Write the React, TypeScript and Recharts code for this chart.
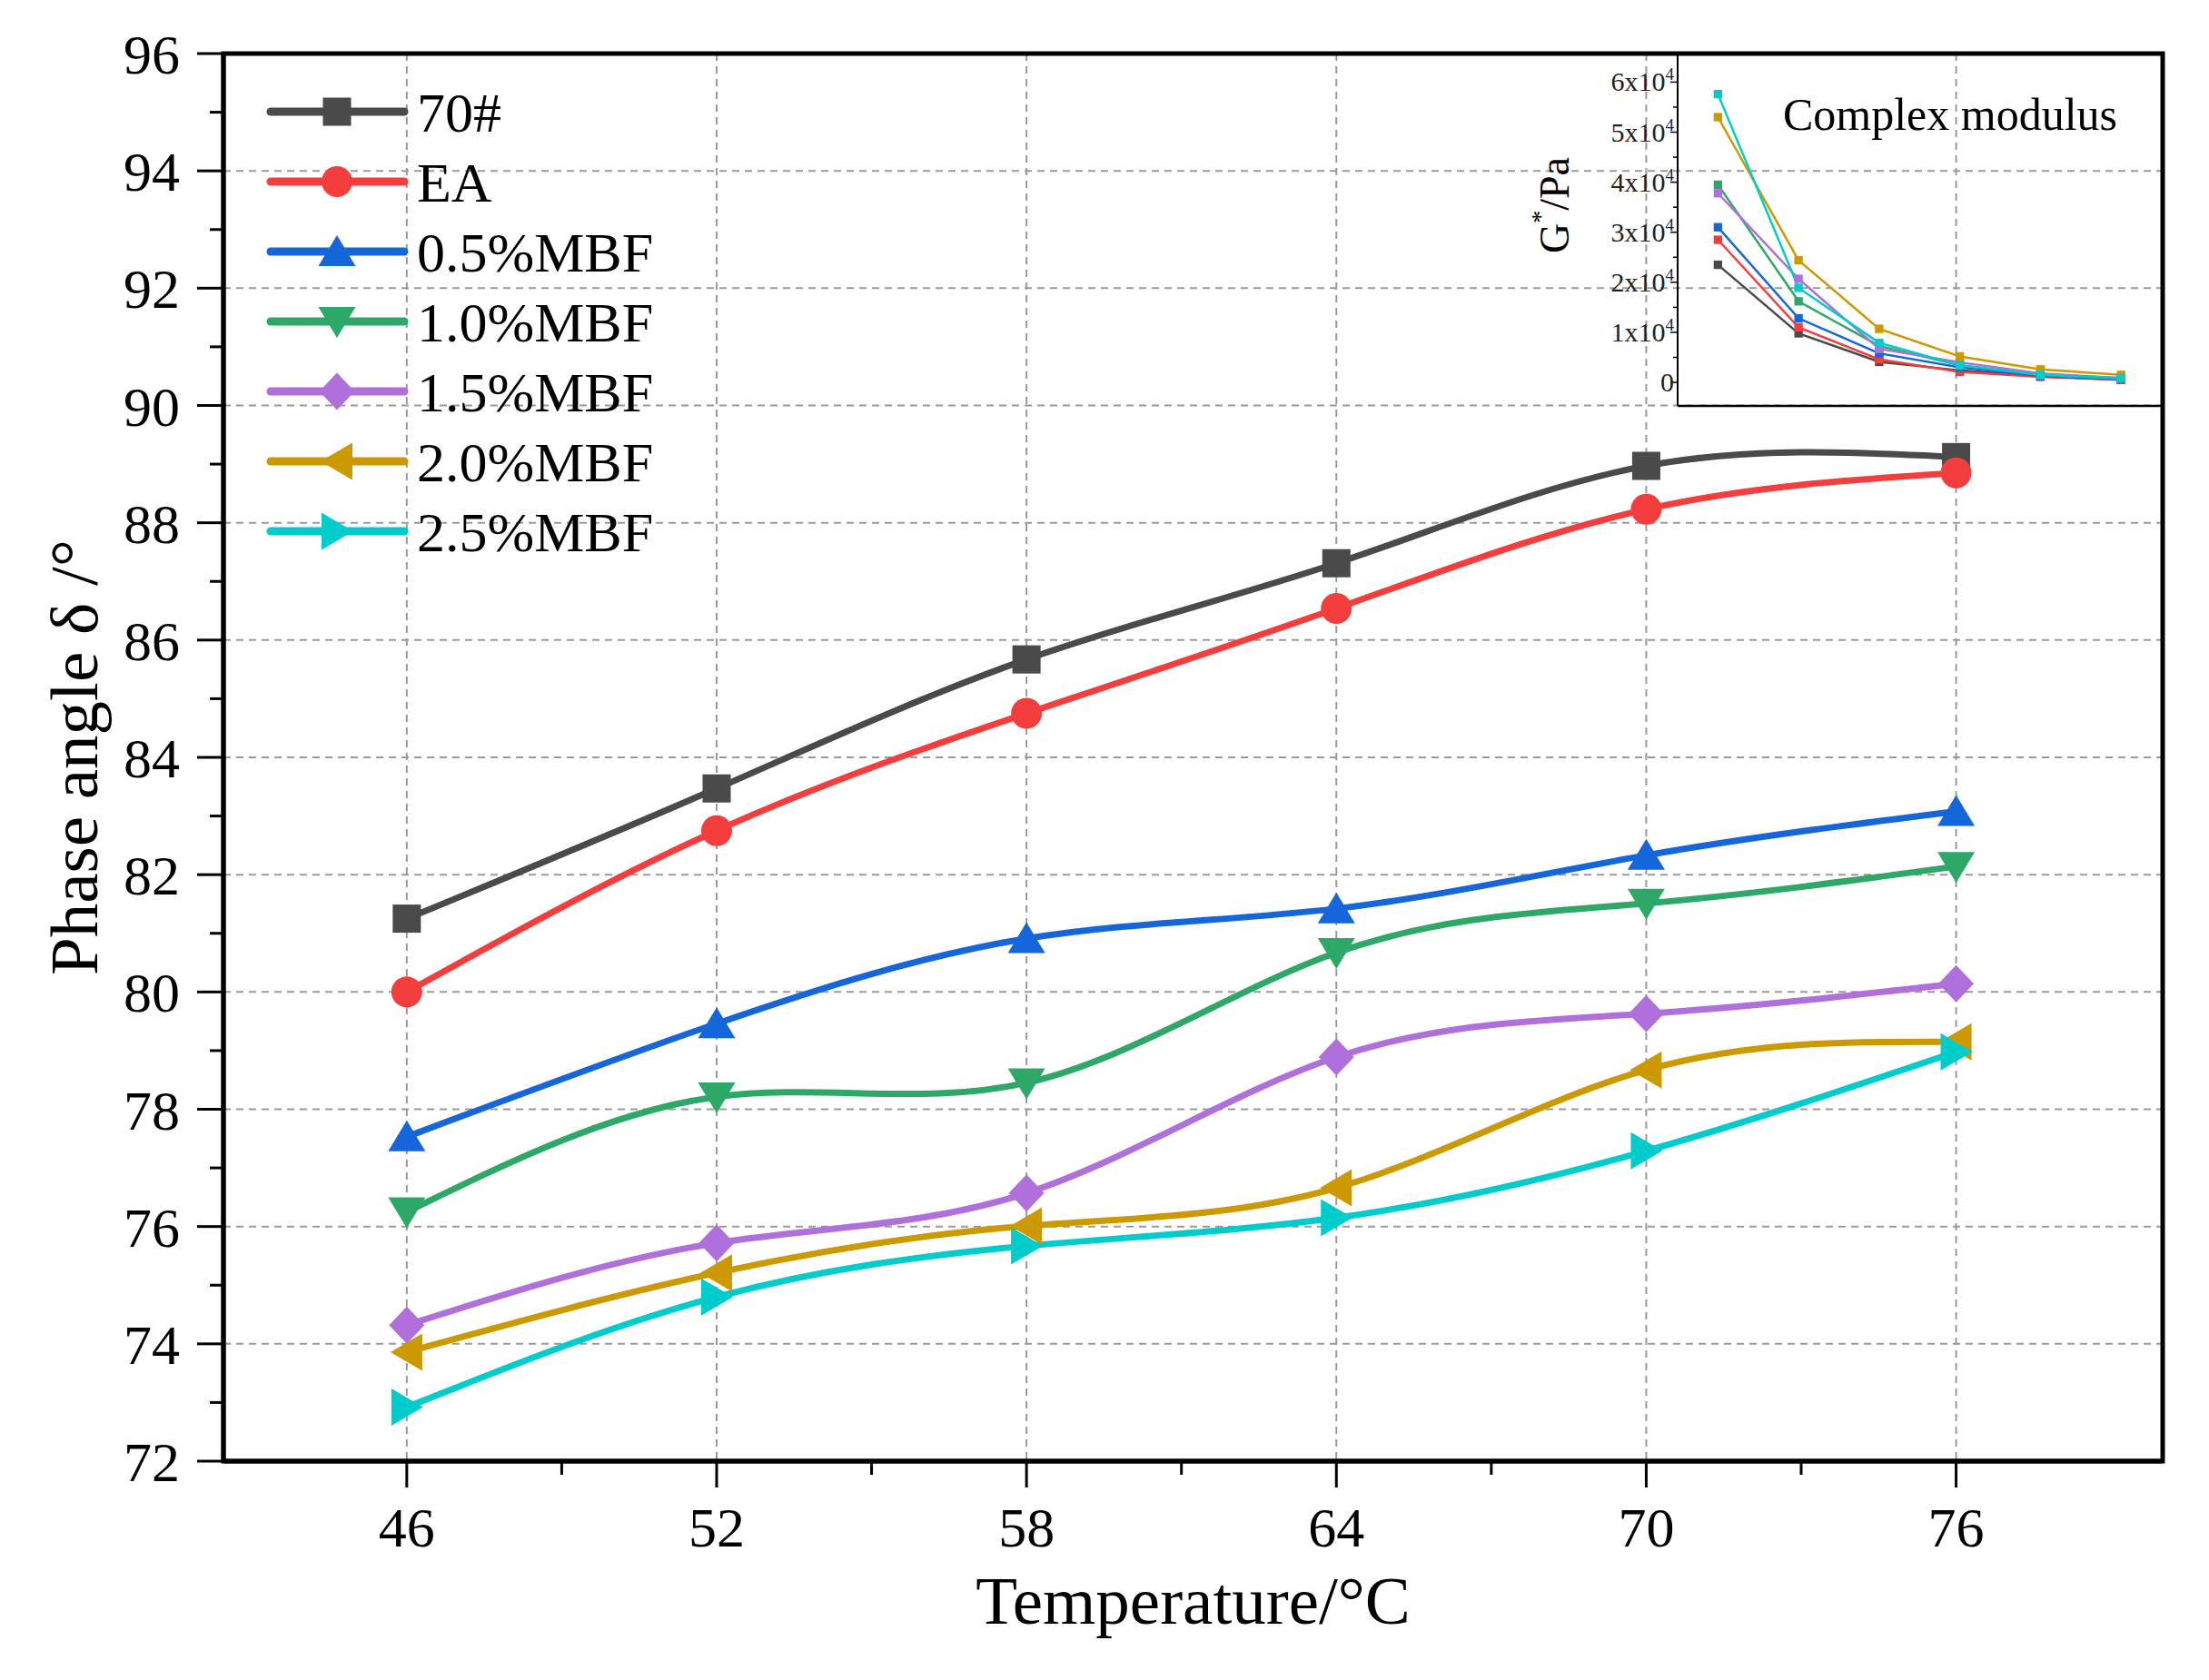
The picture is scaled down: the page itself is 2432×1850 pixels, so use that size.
import React from "react";
import { LineChart, Line, XAxis, YAxis, CartesianGrid, Legend, ReferenceArea } from "recharts";

// temperatures (°C)
const temps = [46, 52, 58, 64, 70, 76];

const seriesNames = ["70#", "EA", "0.5%MBF", "1.0%MBF", "1.5%MBF", "2.0%MBF", "2.5%MBF"];
const seriesColors = ["#4a4a4a", "#f43d3d", "#1565db", "#2ea866", "#b070db", "#cc9900", "#00cccc"];
const seriesShapes = ["square", "circle", "up", "down", "diamond", "left", "right"];

// phase angle δ (°)
const phase70 = [81.25, 83.47, 85.67, 87.31, 88.97, 89.12];
const phaseEA = [80.0, 82.75, 84.75, 86.54, 88.23, 88.85];
const phase05 = [77.53, 79.46, 80.91, 81.42, 82.33, 83.08];
const phase10 = [76.25, 78.21, 78.45, 80.67, 81.51, 82.14];
const phase15 = [74.32, 75.72, 76.57, 78.89, 79.63, 80.14];
const phase20 = [73.86, 75.21, 76.01, 76.66, 78.67, 79.15];
const phase25 = [72.92, 74.8, 75.67, 76.15, 77.29, 78.98];

// complex modulus G* (Pa) for the inset
const modulus70 = [23500, 9800, 4100, 2400, 1200, 600];
const modulusEA = [28500, 11000, 4600, 2100, 1100, 500];
const modulus05 = [31000, 12800, 5800, 3000, 1300, 600];
const modulus10 = [39500, 16200, 7300, 3400, 1500, 700];
const modulus15 = [37800, 20700, 6700, 4000, 1800, 900];
const modulus20 = [53000, 24400, 10700, 5200, 2600, 1500];
const modulus25 = [57600, 18900, 7900, 3400, 1500, 900];

const phaseSeries = [phase70, phaseEA, phase05, phase10, phase15, phase20, phase25];
const modulusSeries = [modulus70, modulusEA, modulus05, modulus10, modulus15, modulus20, modulus25];

const xDomain = [42.45, 80];
const yDomain = [72, 96];
const xMajor = [46, 52, 58, 64, 70, 76];
const xTicks = [46, 49, 52, 55, 58, 61, 64, 67, 70, 73, 76];
const yTicks = Array.from({ length: 25 }, (_, i) => 72 + i);
const yGrid = [74, 76, 78, 80, 82, 84, 86, 88, 90, 92, 94];
const insetTicks = Array.from({ length: 13 }, (_, i) => i * 5000);

const FONT = "'Liberation Serif', 'Times New Roman', serif";

const phaseRows = temps.map((t, i) => {
  const row: any = { t };
  phaseSeries.forEach((s, k) => (row[`s${k}`] = s[i]));
  return row;
});
const modulusRows = temps.map((t, i) => {
  const row: any = { t };
  modulusSeries.forEach((s, k) => (row[`m${k}`] = s[i]));
  return row;
});

function Marker({ shape, cx, cy, color, scale = 1 }: any) {
  if (cx == null || cy == null) return null;
  const k = scale;
  switch (shape) {
    case "square":
      return <rect x={cx - 15.5 * k} y={cy - 15.5 * k} width={31 * k} height={31 * k} fill={color} />;
    case "circle":
      return <circle cx={cx} cy={cy} r={17 * k} fill={color} />;
    case "up":
      return <polygon points={`${cx},${cy - 18 * k} ${cx + 20.5 * k},${cy + 16 * k} ${cx - 20.5 * k},${cy + 16 * k}`} fill={color} />;
    case "down":
      return <polygon points={`${cx},${cy + 18 * k} ${cx + 20.5 * k},${cy - 16 * k} ${cx - 20.5 * k},${cy - 16 * k}`} fill={color} />;
    case "diamond":
      return <polygon points={`${cx},${cy - 20.5 * k} ${cx + 19.5 * k},${cy} ${cx},${cy + 20.5 * k} ${cx - 19.5 * k},${cy}`} fill={color} />;
    case "left":
      return <polygon points={`${cx - 18 * k},${cy} ${cx + 17 * k},${cy - 20.5 * k} ${cx + 17 * k},${cy + 20.5 * k}`} fill={color} />;
    case "right":
      return <polygon points={`${cx + 18 * k},${cy} ${cx - 17 * k},${cy - 20.5 * k} ${cx - 17 * k},${cy + 20.5 * k}`} fill={color} />;
    default:
      return null;
  }
}

const XTick = ({ x, y, payload }: any) => {
  const major = xMajor.includes(payload.value);
  return (
    <g>
      <line x1={x} x2={x} y1={y} y2={y + (major ? 29 : 15)} stroke="#000" strokeWidth={3} />
      {major && (
        <text x={x} y={y + 94} textAnchor="middle" fontSize={62} fontFamily={FONT} fill="#000">
          {payload.value}
        </text>
      )}
    </g>
  );
};

const YTick = ({ x, y, payload }: any) => {
  const major = payload.value % 2 === 0;
  return (
    <g>
      <line x1={x} x2={x - (major ? 29 : 15)} y1={y} y2={y} stroke="#000" strokeWidth={3} />
      {major && (
        <text x={x - 48} y={y + 22} textAnchor="end" fontSize={62} fontFamily={FONT} fill="#000">
          {payload.value}
        </text>
      )}
    </g>
  );
};

const InsetYTick = ({ x, y, payload }: any) => {
  const v = payload.value;
  const major = v % 10000 === 0;
  return (
    <g>
      <line x1={x} x2={x - (major ? 8 : 5)} y1={y} y2={y} stroke="#000" strokeWidth={1.5} />
      {major && (
        <text x={x - 4} y={y + 10} textAnchor="end" fontSize={30} fontFamily={FONT} fill="#222">
          {v === 0 ? (
            "0"
          ) : (
            <>
              {`${v / 10000}x10`}
              <tspan fontSize={19} dy={-12}>4</tspan>
            </>
          )}
        </text>
      )}
    </g>
  );
};

const renderLegend = () => (
  <svg width={520} height={560}>
    {seriesNames.map((name, i) => {
      const cy = 43 + i * 77;
      return (
        <g key={name}>
          <line x1={8} x2={155} y1={cy} y2={cy} stroke={seriesColors[i]} strokeWidth={9} strokeLinecap="round" />
          <Marker shape={seriesShapes[i]} cx={81} cy={cy} color={seriesColors[i]} />
          <text x={169} y={cy + 22} fontSize={62} fontFamily={FONT} fill="#000">
            {name}
          </text>
        </g>
      );
    })}
  </svg>
);

export default function App() {
  return (
    <div style={{ position: "absolute", left: 0, top: 0, width: 2432, height: 1850, background: "#fff" }}>
      <LineChart
        width={2432}
        height={1850}
        data={phaseRows}
        margin={{ top: 59, right: 51, bottom: 141, left: 46 }}
      >
        <CartesianGrid
          stroke="#9a9a9a"
          strokeWidth={2}
          strokeDasharray="8 6"
          horizontalValues={yGrid}
          verticalValues={xMajor}
        />
        <XAxis
          dataKey="t"
          type="number"
          domain={xDomain}
          allowDataOverflow
          ticks={xTicks}
          interval={0}
          height={100}
          tickSize={0}
          tickMargin={0}
          tick={<XTick />}
          axisLine={{ stroke: "#000", strokeWidth: 5 }}
          label={{
            content: ({ viewBox }: any) => (
              <text
                x={viewBox.x + viewBox.width / 2}
                y={viewBox.y + 179}
                textAnchor="middle"
                fontSize={75}
                fontFamily={FONT}
                fill="#000"
              >
                Temperature/°C
              </text>
            ),
          }}
        />
        <YAxis
          type="number"
          domain={yDomain}
          allowDataOverflow
          ticks={yTicks}
          interval={0}
          width={200}
          tickSize={0}
          tickMargin={0}
          tick={<YTick />}
          axisLine={{ stroke: "#000", strokeWidth: 5 }}
          label={{
            content: ({ viewBox }: any) => {
              const cx = viewBox.x + 35;
              const cy = viewBox.y + viewBox.height / 2;
              return (
                <text
                  x={cx}
                  y={cy}
                  transform={`rotate(-90 ${cx} ${cy})`}
                  textAnchor="middle"
                  dominantBaseline="central"
                  fontSize={75}
                  fontFamily={FONT}
                  fill="#000"
                >
                  Phase angle δ /°
                </text>
              );
            },
          }}
        />
        {/* plot frame */}
        <ReferenceArea
          x1={xDomain[0]}
          x2={xDomain[1]}
          y1={yDomain[0]}
          y2={yDomain[1]}
          fill="none"
          fillOpacity={0}
          stroke="#000"
          strokeWidth={5}
          ifOverflow="visible"
        />
        <Legend
          layout="vertical"
          align="center"
          verticalAlign="middle"
          wrapperStyle={{ left: 290, top: 80, width: 520, height: 560 }}
          content={renderLegend}
        />
        {seriesNames.map((name, k) => (
          <Line
            key={name}
            name={name}
            type="natural"
            dataKey={`s${k}`}
            stroke={seriesColors[k]}
            strokeWidth={7}
            isAnimationActive={false}
            dot={(p: any) => (
              <Marker key={`d${k}-${p.index}`} shape={seriesShapes[k]} cx={p.cx} cy={p.cy} color={seriesColors[k]} />
            )}
            activeDot={false}
          />
        ))}
      </LineChart>

      <div style={{ position: "absolute", left: 1600, top: 0 }}>
        <LineChart
          width={832}
          height={500}
          data={modulusRows}
          margin={{ top: 59, right: 51, bottom: 33, left: 127 }}
        >
          <XAxis
            dataKey="t"
            type="number"
            domain={[43, 79.1]}
            allowDataOverflow
            height={20}
            tick={false}
            tickLine={false}
            axisLine={{ stroke: "#000", strokeWidth: 2.5 }}
          />
          <YAxis
            type="number"
            domain={[-4700, 65700]}
            allowDataOverflow
            ticks={insetTicks}
            interval={0}
            width={120}
            tickSize={0}
            tickMargin={0}
            tick={<InsetYTick />}
            axisLine={{ stroke: "#000", strokeWidth: 2 }}
            label={{
              content: ({ viewBox }: any) => {
                const cx = viewBox.x - 16;
                const cy = 226;
                return (
                  <text
                    x={cx}
                    y={cy}
                    transform={`rotate(-90 ${cx} ${cy})`}
                    textAnchor="middle"
                    dominantBaseline="central"
                    fontSize={46}
                    fontFamily={FONT}
                    fill="#000"
                  >
                    G
                    <tspan fontSize={28} dy={-16}>*</tspan>
                    <tspan dy={16}>/Pa</tspan>
                  </text>
                );
              },
            }}
          />
          {seriesNames.map((name, k) => (
            <Line
              key={name}
              name={name}
              type="linear"
              dataKey={`m${k}`}
              stroke={seriesColors[k]}
              strokeWidth={2.5}
              isAnimationActive={false}
              dot={(p: any) => (
                <Marker key={`m${k}-${p.index}`} shape="square" cx={p.cx} cy={p.cy} color={seriesColors[k]} scale={0.3} />
              )}
              activeDot={false}
            />
          ))}
          <text x={547} y={143} textAnchor="middle" fontSize={50} fontFamily={FONT} fill="#000">
            Complex modulus
          </text>
        </LineChart>
      </div>
    </div>
  );
}
